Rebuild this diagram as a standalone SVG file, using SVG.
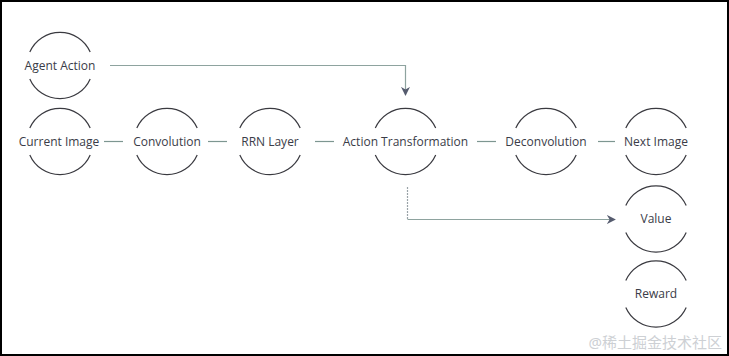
<svg xmlns="http://www.w3.org/2000/svg" width="729" height="356" viewBox="0 0 729 356">
<defs>
<style>
.ring{fill:none;stroke:#3a3a40;stroke-width:1.2}
.lbl{font-family:"Open Sans","Noto Sans",sans-serif;font-size:12px;fill:#3a3c48;text-anchor:middle}
.link{fill:none;stroke:#7d9691;stroke-width:1.2}
.flow{fill:none;stroke:#8ea39f;stroke-width:1.2}
.dots{fill:none;stroke:#9aa3a8;stroke-width:1.2;stroke-dasharray:2 1}
</style>
<marker id="ah" viewBox="0 0 10 10" refX="9" refY="5" markerWidth="9" markerHeight="9" markerUnits="userSpaceOnUse" orient="auto">
<path d="M0,0 L10,5 L0,10 L3,5 Z" fill="#555b6e"/>
</marker>
<path id="c" d="M-30.2,-13.5 A33,33 0 0 1 30.2,-13.5 M-30.2,13.5 A33,33 0 0 0 30.2,13.5"/>
</defs>
<rect x="0" y="0" width="729" height="356" fill="#ffffff"/>
<rect x="1" y="1" width="727" height="354" fill="none" stroke="#000" stroke-width="2"/>
<g id="connectors">
<line class="link" x1="104" y1="141.5" x2="123" y2="141.5"/>
<line class="link" x1="208" y1="141.5" x2="227" y2="141.5"/>
<line class="link" x1="315" y1="141.5" x2="334" y2="141.5"/>
<line class="link" x1="477" y1="141.5" x2="496" y2="141.5"/>
<line class="link" x1="598" y1="141.5" x2="615" y2="141.5"/>
<path class="flow" d="M110,65.5 H405.5 V95" marker-end="url(#ah)"/>
<path class="dots" d="M407.5,187 V219.5"/>
<path class="flow" d="M407.5,219.5 H615" marker-end="url(#ah)"/>
</g>
<g id="agent-action"><use href="#c" class="ring" x="60" y="65.5"/><text class="lbl" x="60" y="69.5">Agent Action</text></g>
<g id="current-image"><use href="#c" class="ring" x="60" y="141.5"/><text class="lbl" x="59" y="145.5">Current Image</text></g>
<g id="convolution"><use href="#c" class="ring" x="167" y="141.5"/><text class="lbl" x="167" y="145.5">Convolution</text></g>
<g id="rrn-layer"><use href="#c" class="ring" x="270" y="141.5"/><text class="lbl" x="270" y="145.5">RRN Layer</text></g>
<g id="action-transformation"><use href="#c" class="ring" x="405.5" y="141.5"/><text class="lbl" x="405.5" y="145.5">Action Transformation</text></g>
<g id="deconvolution"><use href="#c" class="ring" x="546" y="141.5"/><text class="lbl" x="546" y="145.5">Deconvolution</text></g>
<g id="next-image"><use href="#c" class="ring" x="656" y="141.5"/><text class="lbl" x="656" y="145.5">Next Image</text></g>
<g id="value"><use href="#c" class="ring" x="656" y="219"/><text class="lbl" x="656" y="223">Value</text></g>
<g id="reward"><use href="#c" class="ring" x="656" y="294"/><text class="lbl" x="656" y="298">Reward</text></g>
<text x="722" y="348" font-family="'Noto Sans','Noto Sans CJK SC',sans-serif" font-size="15" fill="#cdd0d4" text-anchor="end">@稀土掘金技术社区</text>
</svg>
